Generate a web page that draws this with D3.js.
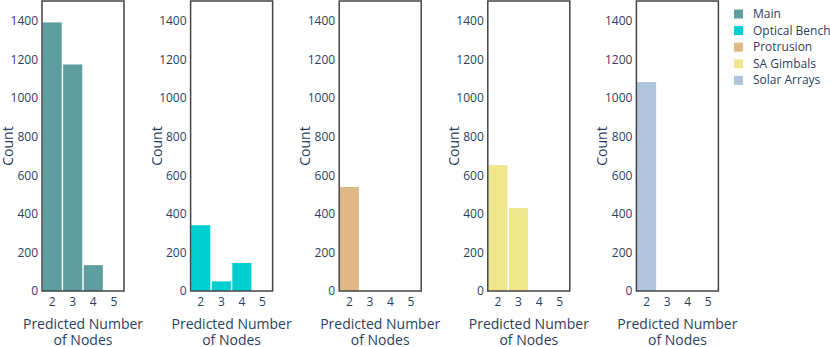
<!DOCTYPE html>
<html><head><meta charset="utf-8">
<script src="https://cdn.jsdelivr.net/npm/d3@7"></script>
<style>body{margin:0;background:#fff}svg{display:block}text{font-family:"Open Sans",sans-serif;fill:#2a3f5f}</style>
</head><body>
<svg id="c" width="830" height="347"></svg>
<script>
const categories = ["2","3","4","5"];
const seriesNames = ["Main","Optical Bench","Protrusion","SA Gimbals","Solar Arrays"];
const seriesColors = ["#5F9EA0","#00CED1","#DEB887","#F0E68C","#B0C4DE"];
const mainVals = [1392, 1174, 134, 0];
const opticalVals = [341, 50, 145, 0];
const protrusionVals = [539, 0, 0, 0];
const gimbalVals = [652, 430, 0, 0];
const solarVals = [1083, 0, 0, 0];
const yTicks = [0,200,400,600,800,1000,1200,1400];
const seriesValues = [mainVals, opticalVals, protrusionVals, gimbalVals, solarVals];

(function(){
const svg = d3.select("#c");
const plotTop = 1, plotBottom = 291, pw = 82;
const lefts = [42, 190.6, 339.2, 487.8, 636.4];
const y = d3.scaleLinear().domain([0, 1503]).range([plotBottom, plotTop]);

seriesNames.forEach((name, i) => {
  const g = svg.append("g").attr("transform", `translate(${lefts[i]},0)`);
  const x = d3.scaleBand().domain(categories).range([0, pw]).paddingInner(0.07).paddingOuter(0.03);
  g.selectAll("rect.bar").data(categories.map((c, k) => ({c, v: seriesValues[i][k]})).filter(d => d.v > 0))
    .enter().append("rect").attr("class","bar")
    .attr("x", d => x(d.c)).attr("width", x.bandwidth())
    .attr("y", d => y(d.v)).attr("height", d => plotBottom - y(d.v))
    .attr("fill", seriesColors[i]);
  g.append("rect").attr("x", 0).attr("y", plotTop).attr("width", pw).attr("height", plotBottom - plotTop)
    .attr("fill","none").attr("stroke","#444").attr("stroke-width",1.5);
  const ya = g.append("g").call(d3.axisLeft(y).tickValues(yTicks).tickFormat(d3.format("d")).tickSize(0).tickPadding(4));
  ya.select(".domain").remove();
  ya.selectAll("text").style("font-size","12px").attr("fill","#2a3f5f").attr("font-family","Open Sans");
  const xa = g.append("g").attr("transform", `translate(0,${plotBottom})`).call(d3.axisBottom(x).tickSize(0).tickPadding(6));
  xa.select(".domain").remove();
  xa.selectAll("text").style("font-size","12px").attr("fill","#2a3f5f").attr("font-family","Open Sans");
  g.append("text").attr("transform", `translate(-29,${(plotTop+plotBottom)/2}) rotate(-90)`)
    .attr("text-anchor","middle").style("font-size","14px").text("Count");
  g.append("text").attr("text-anchor","middle").style("font-size","14px")
    .attr("x", pw/2).attr("y", 329).text("Predicted Number");
  g.append("text").attr("text-anchor","middle").style("font-size","14px")
    .attr("x", pw/2).attr("y", 345).text("of Nodes");
});

const lg = svg.append("g").attr("transform","translate(734,0)");
seriesNames.forEach((name, i) => {
  const cy = 14 + i * 16.6;
  lg.append("rect").attr("x", 0).attr("y", cy - 4.5).attr("width", 9).attr("height", 9).attr("fill", seriesColors[i]);
  lg.append("text").attr("x", 19).attr("y", cy + 4).style("font-size","12px").text(name);
});
})();
</script>
</body></html>
